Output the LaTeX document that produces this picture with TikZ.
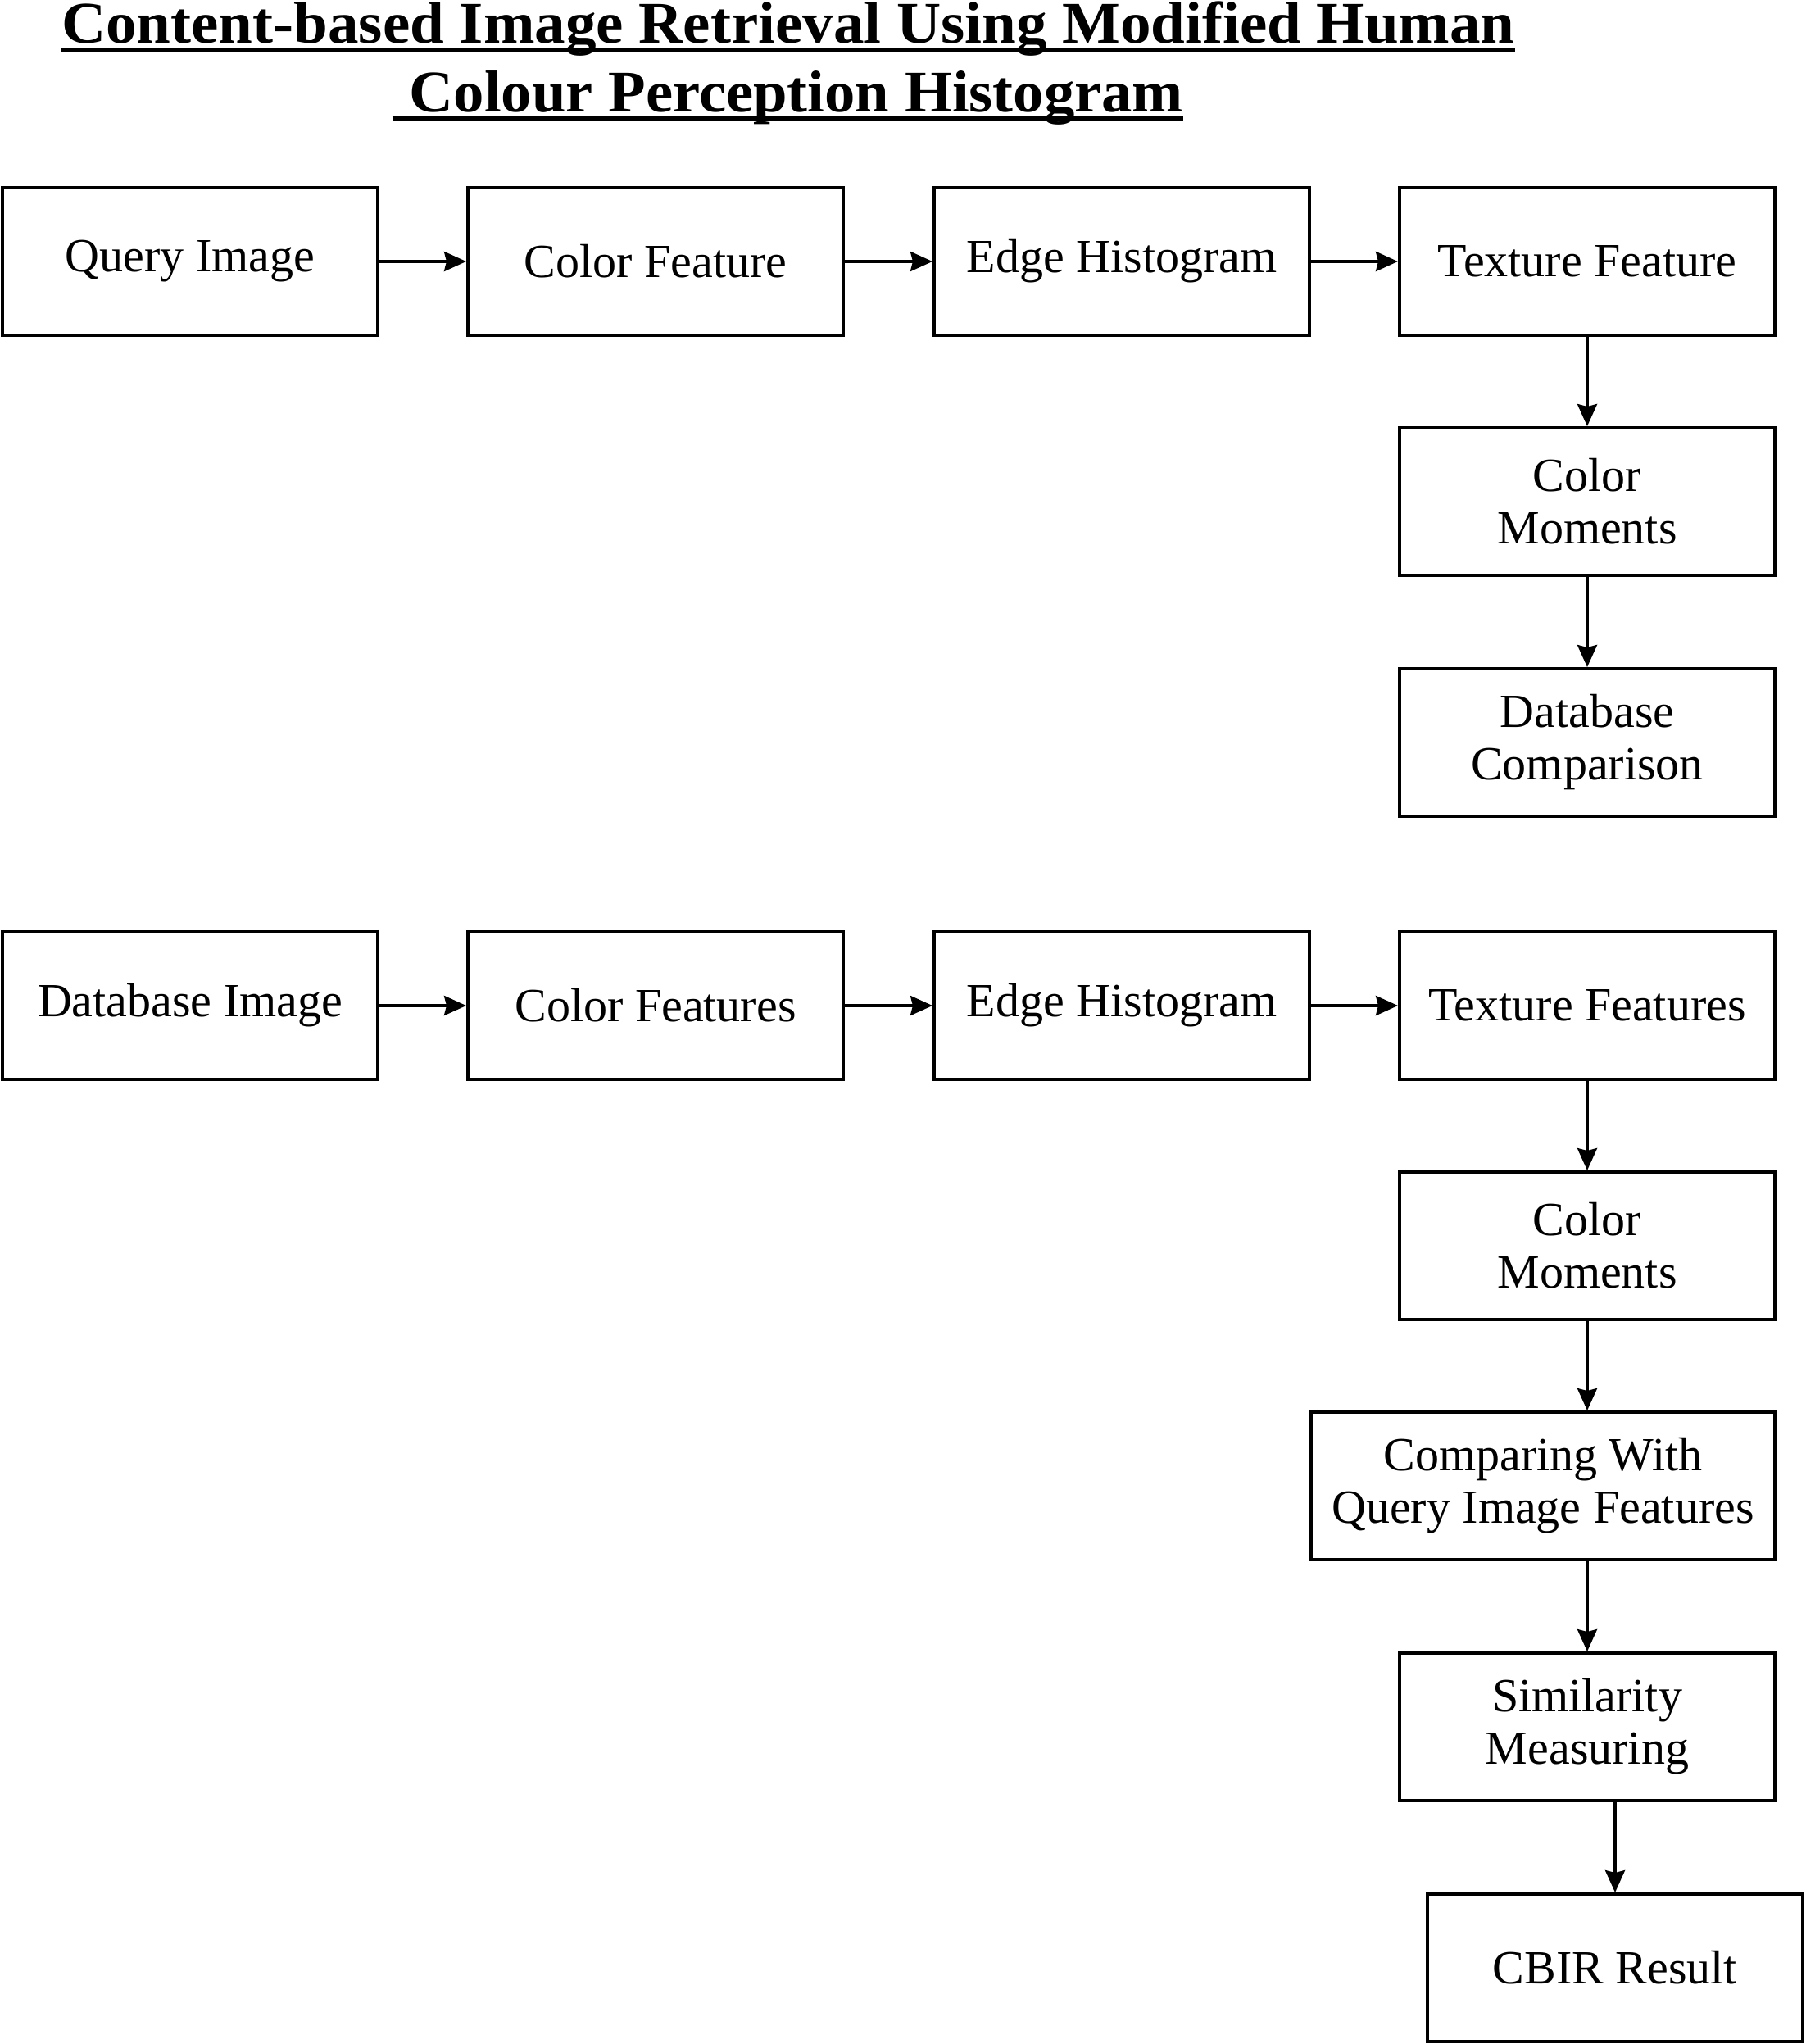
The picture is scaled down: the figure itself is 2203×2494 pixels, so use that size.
\documentclass[tikz,border=0pt]{standalone}
\usepackage{fontspec}
\setmainfont{Liberation Serif}
\usetikzlibrary{arrows.meta}
\begin{document}
\begin{tikzpicture}[x=1pt,y=-1pt,
  blk/.style={draw,line width=4pt,minimum width=458pt,minimum height=180pt,inner sep=0pt,align=center,
    font=\fontsize{58}{64}\selectfont},
  conn/.style={line width=3.5pt,-{Stealth[length=27pt,width=24pt,inset=3pt]}},
  ttl/.style={anchor=base,inner sep=0pt,font=\fontsize{72}{80}\selectfont\bfseries}]
\useasboundingbox[fill=white] (0,0) rectangle (2203,2494);
% title
\node[ttl] (t1) at (962,53) {\scalebox{1.042}[1]{Content-based Image Retrieval Using Modified Human}};
\node[ttl] (t2) at (972,136) {\scalebox{1.037}[1]{Colour Perception Histogram}};
\draw[line width=5pt] ([yshift=-9pt]t1.base west) -- ([yshift=-9pt]t1.base east);
\draw[line width=5pt] ([xshift=-21pt,yshift=-9pt]t2.base west) -- ([yshift=-9pt]t2.base east);
% query row
\node[blk] (qi) at (232,319) {Query Image};
\node[blk] (cf) at (800,319) {Color Feature};
\node[blk] (eh) at (1369,319) {Edge Histogram};
\node[blk] (tf) at (1937,319) {Texture Feature};
\node[blk] (cm) at (1937,612) {Color\\Moments};
\node[blk] (dc) at (1937,906) {Database\\Comparison};
% database row
\node[blk] (di) at (232,1227) {Database Image};
\node[blk] (cfs) at (800,1227) {Color Features};
\node[blk] (ehs) at (1369,1227) {Edge Histogram};
\node[blk] (tfs) at (1937,1227) {Texture Features};
\node[blk] (cms) at (1937,1520) {Color\\Moments};
\node[blk,minimum width=566pt] (cmp) at (1883,1813) {Comparing With\\Query Image Features};
\node[blk] (sim) at (1937,2107) {Similarity\\Measuring};
\node[blk] (res) at (1971,2401) {CBIR Result};
% connectors
\draw[conn] (qi) -- (cf);
\draw[conn] (cf) -- (eh);
\draw[conn] (eh) -- (tf);
\draw[conn] (tf) -- (cm);
\draw[conn] (cm) -- (dc);
\draw[conn] (di) -- (cfs);
\draw[conn] (cfs) -- (ehs);
\draw[conn] (ehs) -- (tfs);
\draw[conn] (tfs) -- (cms);
\draw[conn] (cms.south) -- (cms.south |- cmp.north);
\draw[conn] (cmp.south -| sim.north) -- (sim.north);
\draw[conn] (res.north |- sim.south) -- (res.north);
\end{tikzpicture}
\end{document}
